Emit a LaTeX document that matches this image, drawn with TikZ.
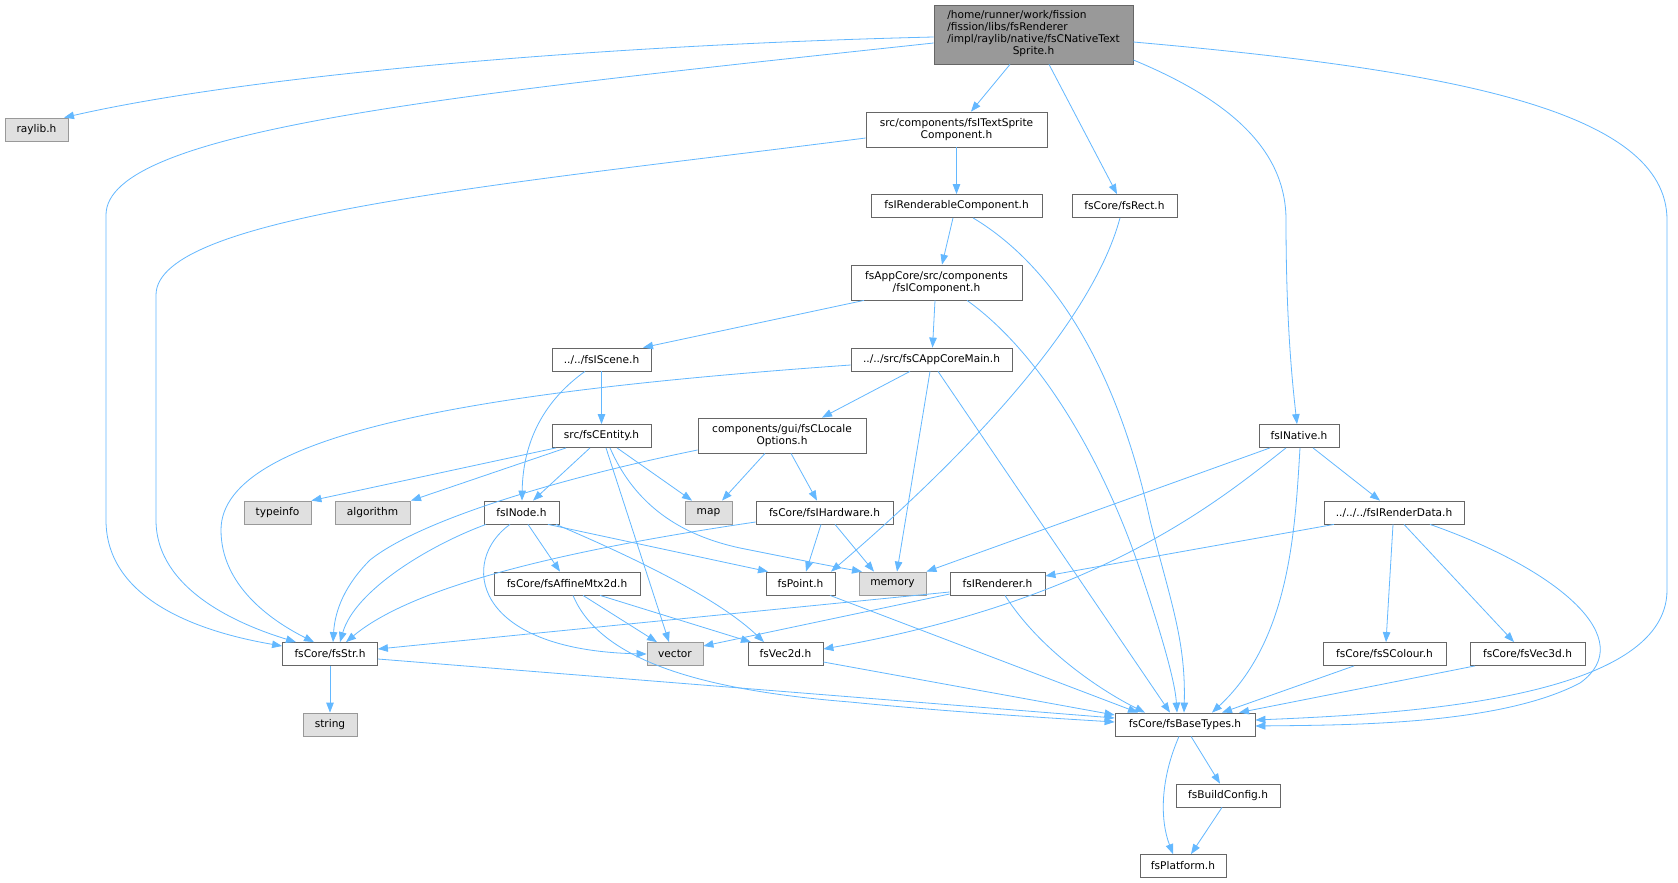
\documentclass[tikz,border=0pt]{standalone}
\usepackage{fontspec}
\setmainfont{DejaVu Sans}
\usetikzlibrary{arrows.meta}
\definecolor{edgec}{HTML}{63B8FF}
\definecolor{bdr}{HTML}{666666}
\definecolor{gbdr}{HTML}{999999}
\definecolor{gfill}{HTML}{E0E0E0}
\definecolor{mfill}{HTML}{999999}
\tikzset{
  nd/.style={draw=bdr, fill=white, line width=0.8pt, inner sep=0pt, minimum height=23pt,
    font=\fontsize{10.6}{12}\selectfont, align=center},
  nd2/.style={nd, minimum height=35pt},
  ext/.style={nd, draw=gbdr, fill=gfill},
  ed/.style={draw=edgec, line width=0.8pt, -{Triangle[length=10pt,width=7.5pt]}},
}
\begin{document}
\begin{tikzpicture}[x=1pt,y=-1pt]
\fill[white] (0,0) rectangle (1678,883);
\useasboundingbox (0,0) rectangle (1678,883);

% nodes
\node[nd, fill=mfill, minimum width=199pt, minimum height=59pt] (main) at (1033.5,34.5)
 {\begin{tabular}{@{}l@{}}/home/runner/work/fission\\/fission/libs/fsRenderer\\/impl/raylib/native/fsCNativeText\\\multicolumn{1}{@{}c@{}}{Sprite.h}\end{tabular}};
\node[ext, minimum width=63pt] (raylib) at (36.5,129.5) {raylib.h};
\node[nd2, minimum width=181pt] (ts) at (956.5,129.5) {src/components/fsITextSprite\\Component.h};
\node[nd, minimum width=171pt] (rend) at (956.5,206) {fsIRenderableComponent.h};
\node[nd, minimum width=105pt] (rect) at (1124.5,206) {fsCore/fsRect.h};
\node[nd2, minimum width=171pt] (comp) at (936.5,282.5) {fsAppCore/src/components\\/fsIComponent.h};
\node[nd, minimum width=99pt] (scene) at (601.5,359.5) {../../fsIScene.h};
\node[nd, minimum width=161pt] (appmain) at (931.5,359.5) {../../src/fsCAppCoreMain.h};
\node[nd, minimum width=99pt] (entity) at (601.5,436) {src/fsCEntity.h};
\node[nd2, minimum width=168pt] (locale) at (782,435.5) {components/gui/fsCLocale\\Options.h};
\node[nd, minimum width=80pt] (native) at (1299,436) {fsINative.h};
\node[ext, minimum width=67pt] (typeinfo) at (277.5,512.5) {typeinfo};
\node[ext, minimum width=75pt] (algorithm) at (372.5,512.5) {algorithm};
\node[nd, minimum width=75pt] (inode) at (521.5,512.5) {fsINode.h};
\node[ext, minimum width=47pt] (map) at (708.5,512.5) {map};
\node[nd, minimum width=137pt] (hw) at (824.5,512.5) {fsCore/fsIHardware.h};
\node[nd, minimum width=140pt] (rdata) at (1394,512.5) {../../../fsIRenderData.h};
\node[nd, minimum width=146pt] (affine) at (567,583.5) {fsCore/fsAffineMtx2d.h};
\node[nd, minimum width=69pt] (point) at (800.5,583.5) {fsPoint.h};
\node[ext, minimum width=67pt] (memory) at (892.5,583.5) {memory};
\node[nd, minimum width=95pt] (renderer) at (997.5,583.5) {fsIRenderer.h};
\node[nd, minimum width=95pt] (str) at (330,654) {fsCore/fsStr.h};
\node[ext, minimum width=56pt] (vector) at (675,654) {vector};
\node[nd, minimum width=75pt] (vec2d) at (785.5,654) {fsVec2d.h};
\node[nd, minimum width=123pt] (scolour) at (1384.5,654) {fsCore/fsSColour.h};
\node[nd, minimum width=115pt] (vec3d) at (1527.5,654) {fsCore/fsVec3d.h};
\node[nd, minimum width=140pt] (base) at (1185,724.5) {fsCore/fsBaseTypes.h};
\node[ext, minimum width=54pt] (string) at (330,724.5) {string};
\node[nd, minimum width=104pt] (build) at (1228,795.5) {fsBuildConfig.h};
\node[nd, minimum width=86pt] (platform) at (1183,866) {fsPlatform.h};

% edges
\draw[ed] (main.west |- 0,37) .. controls (600,45) and (250,75) .. (raylib.north -| 64,0);
\draw[ed] (main.west |- 0,43) .. controls (450,95) and (106,130) .. (106,215) -- (106,520) .. controls (106,600) and (200,632) .. (str.west |- 0,646);
\draw[ed] (main.south -| 1010,0) -- (ts.north -| 971,0);
\draw[ed] (main.south -| 1049,0) -- (rect.north -| 1117,0);
\draw[ed] (main.east |- 0,60) .. controls (1230,100) and (1286,150) .. (1286,220) .. controls (1286,320) and (1292,380) .. (native.north -| 1297,0);
\draw[ed] (main.east |- 0,42) .. controls (1450,70) and (1667,110) .. (1667,220) -- (1667,590) .. controls (1667,700) and (1400,714) .. (base.east |- 0,720);
\draw[ed] (ts.west |- 0,138) .. controls (500,185) and (156,215) .. (156,295) -- (156,520) .. controls (156,590) and (240,625) .. (str.north -| 296,0);
\draw[ed] (ts.south) -- (rend.north);
\draw[ed] (rend.south -| 953,0) -- (comp.north -| 942,0);
\draw[ed] (rend.south -| 973,0) .. controls (1060,270) and (1120,380) .. (1150,520) .. controls (1170,600) and (1186,640) .. (base.north -| 1184,0);
\draw[ed] (rect.south -| 1120,0) .. controls (1090,330) and (950,470) .. (point.north -| 831,0);
\draw[ed] (comp.south -| 864,0) -- (scene.north -| 643,0);
\draw[ed] (comp.south -| 935,0) -- (appmain.north -| 932.5,0);
\draw[ed] (comp.south -| 967,0) .. controls (1050,360) and (1110,480) .. (1140,570) .. controls (1160,630) and (1175,680) .. (base.north -| 1177,0);
\draw[ed] (scene.south) -- (entity.north);
\draw[ed] (scene.south -| 585,0) .. controls (545,400) and (523,440) .. (inode.north -| 522,0);
\draw[ed] (appmain.west |- 0,365) .. controls (500,390) and (221,430) .. (221,530) .. controls (221,585) and (270,620) .. (str.north -| 314,0);
\draw[ed] (appmain.south -| 910,0) -- (locale.north -| 822,0);
\draw[ed] (appmain.south -| 930,0) -- (memory.north -| 897,0);
\draw[ed] (appmain.south -| 938,0) -- (base.north -| 1170,0);
\draw[ed] (entity.south -| 556,0) -- (typeinfo.north east);
\draw[ed] (entity.south -| 566,0) -- (algorithm.north -| 411,0);
\draw[ed] (entity.south -| 590,0) -- (inode.north -| 533,0);
\draw[ed] (entity.south -| 617,0) -- (map.north -| 692,0);
\draw[ed] (entity.south -| 610,0) .. controls (635,505) and (680,535) .. (740,548) .. controls (790,558) and (830,566) .. (memory.north -| 862,0);
\draw[ed] (entity.south -| 606,0) -- (vector.north -| 669,0);
\draw[ed] (locale.west |- 0,450) .. controls (560,478) and (420,520) .. (370,560) .. controls (345,585) and (335,610) .. (str.north -| 333,0);
\draw[ed] (locale.south -| 765,0) -- (map.north -| 722,0);
\draw[ed] (locale.south -| 791,0) -- (hw.north -| 817,0);
\draw[ed] (hw.west |- 0,522) .. controls (600,545) and (420,580) .. (str.north -| 346,0);
\draw[ed] (hw.south -| 821,0) -- (point.north -| 806,0);
\draw[ed] (hw.south -| 835,0) -- (memory.north -| 874,0);
\draw[ed] (native.south -| 1270,0) -- (memory.north east);
\draw[ed] (native.south -| 1286,0) .. controls (1220,500) and (1100,600) .. (vec2d.east |- 0,649);
\draw[ed] (native.south -| 1300,0) .. controls (1295,530) and (1290,640) .. (base.north -| 1212,0);
\draw[ed] (native.south -| 1313,0) -- (rdata.north -| 1380,0);
\draw[ed] (rdata.south -| 1334,0) -- (renderer.east |- 0,576);
\draw[ed] (rdata.south -| 1393,0) -- (scolour.north -| 1386,0);
\draw[ed] (rdata.south -| 1404,0) -- (vec3d.north -| 1514,0);
\draw[ed] (rdata.south -| 1430,0) .. controls (1560,570) and (1640,640) .. (1580,683) .. controls (1500,725) and (1350,725) .. (base.east |- 0,726);
\draw[ed] (inode.south -| 486,0) .. controls (430,545) and (355,590) .. (str.north -| 340,0);
\draw[ed] (inode.south -| 510,0) .. controls (460,560) and (470,650) .. (vector.west |- 0,654);
\draw[ed] (inode.south -| 528,0) -- (affine.north -| 560,0);
\draw[ed] (inode.south -| 548,0) -- (point.north -| 768,0);
\draw[ed] (inode.south -| 556,0) .. controls (640,560) and (720,600) .. (vec2d.north -| 764,0);
\draw[ed] (affine.south -| 583,0) -- (vector.north -| 657,0);
\draw[ed] (affine.south -| 600,0) -- (vec2d.north -| 751,0);
\draw[ed] (affine.south -| 573,0) .. controls (600,660) and (700,690) .. (850,702) .. controls (950,712) and (1050,718) .. (base.west |- 0,722);
\draw[ed] (point.south -| 830,0) -- (base.north -| 1138,0);
\draw[ed] (renderer.south -| 1005,0) .. controls (1040,650) and (1100,690) .. (base.north -| 1145,0);
\draw[ed] (renderer.west |- 0,592) -- (str.east |- 0,649);
\draw[ed] (renderer.west |- 0,594) -- (vector.east |- 0,646);
\draw[ed] (str.east |- 0,659) -- (base.west |- 0,718);
\draw[ed] (str.south) -- (string.north);
\draw[ed] (vec2d.east |- 0,662) -- (base.west |- 0,715);
\draw[ed] (scolour.south -| 1354,0) -- (base.north -| 1222,0);
\draw[ed] (vec3d.south -| 1475,0) -- (base.north -| 1239,0);
\draw[ed] (base.south -| 1191,0) -- (build.north -| 1220,0);
\draw[ed] (base.south -| 1179,0) .. controls (1160,780) and (1160,820) .. (platform.north -| 1173,0);
\draw[ed] (build.south -| 1222,0) -- (platform.north -| 1191,0);
\end{tikzpicture}
\end{document}
